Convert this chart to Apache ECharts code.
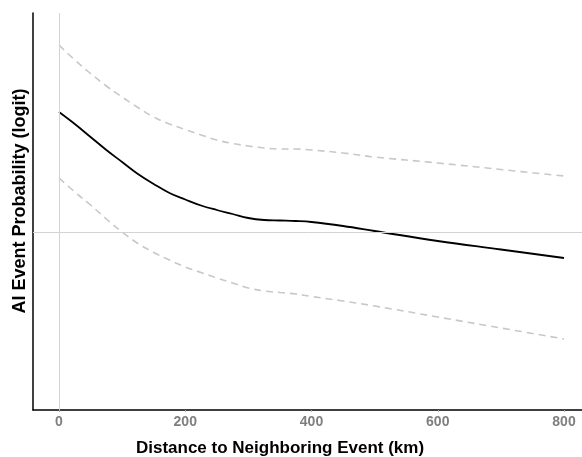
<!DOCTYPE html>
<html>
<head>
<meta charset="UTF-8">
<title>AI Event Probability</title>
<script src="https://cdn.jsdelivr.net/npm/echarts@6/dist/echarts.min.js"></script>
<style>
html,body{margin:0;padding:0;background:#fff;}
#chart{width:582px;height:457px;}
</style>
</head>
<body>
<div id="chart"></div>
<script type="text/javascript">
// distance (km)
var distance = [0,25,50,75,100,125,150,175,200,225,250,275,300,325,350,375,400,450,500,600,700,800];
// fitted logit and its upper / lower bands
var fit   = [1.20,1.08,0.95,0.82,0.70,0.58,0.48,0.39,0.325,0.265,0.22,0.18,0.14,0.12,0.115,0.11,0.10,0.06,0.01,-0.09,-0.175,-0.26];
var upper = [1.87,1.72,1.585,1.46,1.35,1.245,1.15,1.08,1.025,0.97,0.92,0.885,0.86,0.84,0.83,0.83,0.82,0.79,0.75,0.69,0.625,0.56];
var lower = [0.54,0.40,0.27,0.13,0.00,-0.115,-0.205,-0.28,-0.35,-0.405,-0.46,-0.51,-0.56,-0.59,-0.605,-0.62,-0.645,-0.69,-0.74,-0.85,-0.96,-1.07];
var xTicks = [0,200,400,600,800];

function pairs(ys){
	var out=[];
	for(var i=0;i<distance.length;i++){
		out.push([distance[i],ys[i]]);
	}
	return out;
}

var font='"Liberation Sans", Arial, sans-serif';
var mychart=echarts.init(document.getElementById('chart'));
var option={
	backgroundColor:'#fff',
	animation:false,
	grid:{left:33,right:0,top:13,bottom:47},
	xAxis:{
		type:'value',
		min:-41.2,
		max:828.5,
		axisLine:{show:true,onZero:false,lineStyle:{color:'#000',width:1.5}},
		axisTick:{show:true,customValues:xTicks,length:2,lineStyle:{color:'#aaa'}},
		axisLabel:{customValues:xTicks,margin:5,color:'#7f7f7f',fontWeight:'bold',fontSize:14,fontFamily:font},
		splitLine:{show:false}
	},
	yAxis:{
		type:'value',
		min:-1.78,
		max:2.19,
		axisLine:{show:true,onZero:false,lineStyle:{color:'#000',width:1.5}},
		axisTick:{show:false},
		axisLabel:{show:false},
		splitLine:{show:false}
	},
	graphic:[
		{type:'text',x:280,y:448,style:{text:'Distance to Neighboring Event (km)',font:'bold 17px '+font,fill:'#000',textAlign:'center',textVerticalAlign:'middle'}},
		{type:'text',x:20,y:201,rotation:Math.PI/2,style:{text:'AI Event Probability (logit)',font:'bold 18px '+font,fill:'#000',textAlign:'center',textVerticalAlign:'middle'}}
	],
	series:[
		{
			type:'line',
			data:[],
			silent:true,
			markLine:{
				silent:true,
				symbol:'none',
				label:{show:false},
				lineStyle:{color:'#d3d3d3',width:1,type:'solid'},
				data:[{xAxis:0},{yAxis:0}]
			}
		},
		{
			name:'upper',
			type:'line',
			data:pairs(upper),
			smooth:0.4,
			showSymbol:false,
			lineStyle:{color:'#c8c8c8',width:1.6,type:[7,5]}
		},
		{
			name:'lower',
			type:'line',
			data:pairs(lower),
			smooth:0.4,
			showSymbol:false,
			lineStyle:{color:'#c8c8c8',width:1.6,type:[7,5]}
		},
		{
			name:'fit',
			type:'line',
			data:pairs(fit),
			smooth:0.4,
			showSymbol:false,
			lineStyle:{color:'#000',width:1.8}
		}
	]
};
mychart.setOption(option);
</script>
</body>
</html>
